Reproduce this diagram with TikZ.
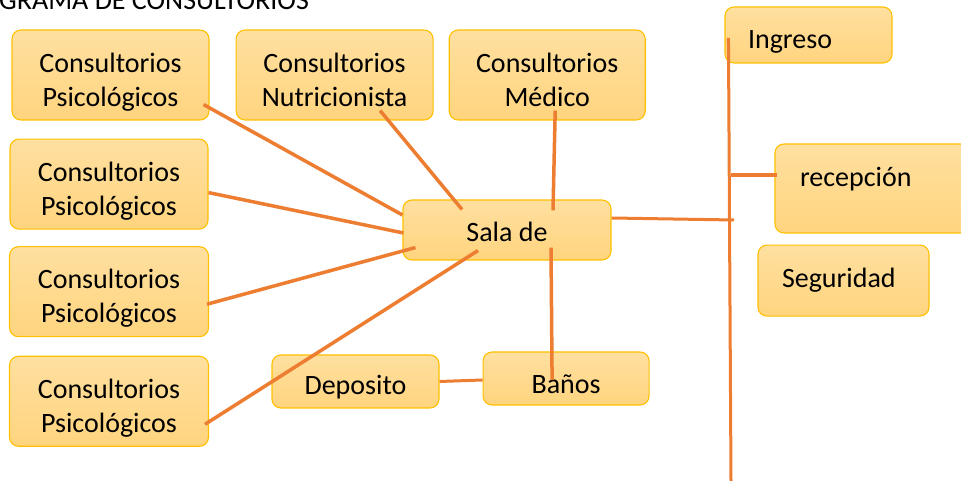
\documentclass[tikz,border=0pt]{standalone}
\usepackage{fontspec}
\setmainfont{Carlito}
\usepackage{tikz}
\usetikzlibrary{calc,positioning}
\definecolor{CajaArriba}{HTML}{FFE0A0}
\definecolor{CajaAbajo}{HTML}{FFD47E}
\definecolor{CajaBorde}{HTML}{FFC000}
\definecolor{Naranja}{HTML}{ED7D31}

\begin{document}
\begin{tikzpicture}[x=1pt,y=1pt]
  \tikzset{CajaNode/.style = {shape = rectangle, rounded corners = 9pt, top color = CajaArriba, bottom color = CajaAbajo, draw = CajaBorde, line width = 1.1pt, text = black, inner sep = 0pt, font = \fontsize{28}{34}\selectfont}};
  \tikzset{BajarTexto/.style = {execute at begin node = {\rule{0pt}{#1}}}};
  \tikzset{LineaStyle/.style = {draw = Naranja, line width = 3.5pt}};
  \clip (0,0) rectangle (961,481);

  \node[anchor = base west, inner sep = 0pt, font = \fontsize{28}{34}\selectfont] (titulo) at (-1,471) {GRAMA DE CONSULTORIOS};

  \node[CajaNode, minimum width = 197pt, minimum height = 90pt, align = center] (psic uno) at (110.5,406) {\rule{0pt}{33pt}Consultorios\\Psicológicos};
  \node[CajaNode, minimum width = 198pt, minimum height = 90pt, align = center, below = 18pt of psic uno, xshift = -1.5pt] (psic dos) {\rule{0pt}{33pt}Consultorios\\Psicológicos};
  \node[CajaNode, minimum width = 199pt, minimum height = 90pt, align = center, below = 16.5pt of psic dos] (psic tres) {\rule{0pt}{33pt}Consultorios\\Psicológicos};
  \node[CajaNode, minimum width = 199pt, minimum height = 90pt, align = center, below = 18.5pt of psic tres] (psic cuatro) {\rule{0pt}{33pt}Consultorios\\Psicológicos};
  \node[CajaNode, minimum width = 197pt, minimum height = 90pt, align = center, right = 26pt of psic uno] (nutri) {\rule{0pt}{30pt}Consultorios\\Nutricionista};
  \node[CajaNode, minimum width = 196pt, minimum height = 90pt, align = center, right = 15pt of nutri] (medico) {\rule{0pt}{30pt}Consultorios\\Médico};

  \node[CajaNode, BajarTexto = 24pt, minimum width = 208pt, minimum height = 60pt] (sala de) at (507,251) {Sala de};
  \node[CajaNode, BajarTexto = 30pt, minimum width = 167pt, minimum height = 53pt] (deposito) at (355.5,99.5) {Deposito};
  \node[CajaNode, BajarTexto = 30pt, minimum width = 166pt, minimum height = 53pt, right = 43pt of deposito, yshift = 3pt] (banos) {Baños};

  \node[CajaNode, BajarTexto = 32pt, minimum height = 56pt, text width = 121pt, inner xsep = 23pt, align = left] (ingreso) at (808.5,446) {Ingreso};
  \node[CajaNode, minimum height = 89pt, text width = 150pt, inner xsep = 25pt, align = left, text depth = 23pt] (recepcion) at (875,292.5) {recepción};
  \node[CajaNode, minimum height = 71pt, text width = 123pt, inner xsep = 24pt, align = left, below = 11pt of recepcion, xshift = -31.5pt] (seguridad) {Seguridad};

  \coordinate (cruce) at (734,261);
  \coordinate (rama) at (731,306);
  \coordinate (fin) at (731,0);

  \draw[LineaStyle] ([xshift = -6pt, yshift = 16pt]psic uno.south east) -- ([yshift = 15pt]sala de.west);
  \draw[LineaStyle] ([xshift = 45.5pt, yshift = 10pt]nutri.south) -- ([xshift = -45pt, yshift = -10pt]sala de.north);
  \draw[LineaStyle] ([xshift = 8pt, yshift = 10pt]medico.south) -- ([xshift = 46pt, yshift = -11pt]sala de.north);
  \draw[LineaStyle] ([yshift = -8.5pt]psic dos.east) -- ([xshift = 1pt, yshift = -3pt]sala de.west);
  \draw[LineaStyle] ([xshift = -2pt, yshift = -12.5pt]psic tres.east) -- ([xshift = 13pt, yshift = 13pt]sala de.south west);
  \draw[LineaStyle] ([xshift = -4pt, yshift = -23pt]psic cuatro.east) -- ([xshift = -29pt, yshift = 10pt]sala de.south);
  \draw[LineaStyle] ([xshift = 44pt, yshift = 13pt]sala de.south) -- ([xshift = -14pt, yshift = -1.5pt]banos.center);
  \draw[LineaStyle, line width = 3pt] (deposito.east) -- ([yshift = -1.5pt]banos.west);
  \draw[LineaStyle, line width = 3pt] ([yshift = 12pt]sala de.east) -- (cruce);
  \draw[LineaStyle, line width = 3pt] ([xshift = 4pt, yshift = -3pt]ingreso.west) -- (fin);
  \draw[LineaStyle] (rama) -- ([xshift = 3pt, yshift = 13.5pt]recepcion.west);
\end{tikzpicture}
\end{document}
